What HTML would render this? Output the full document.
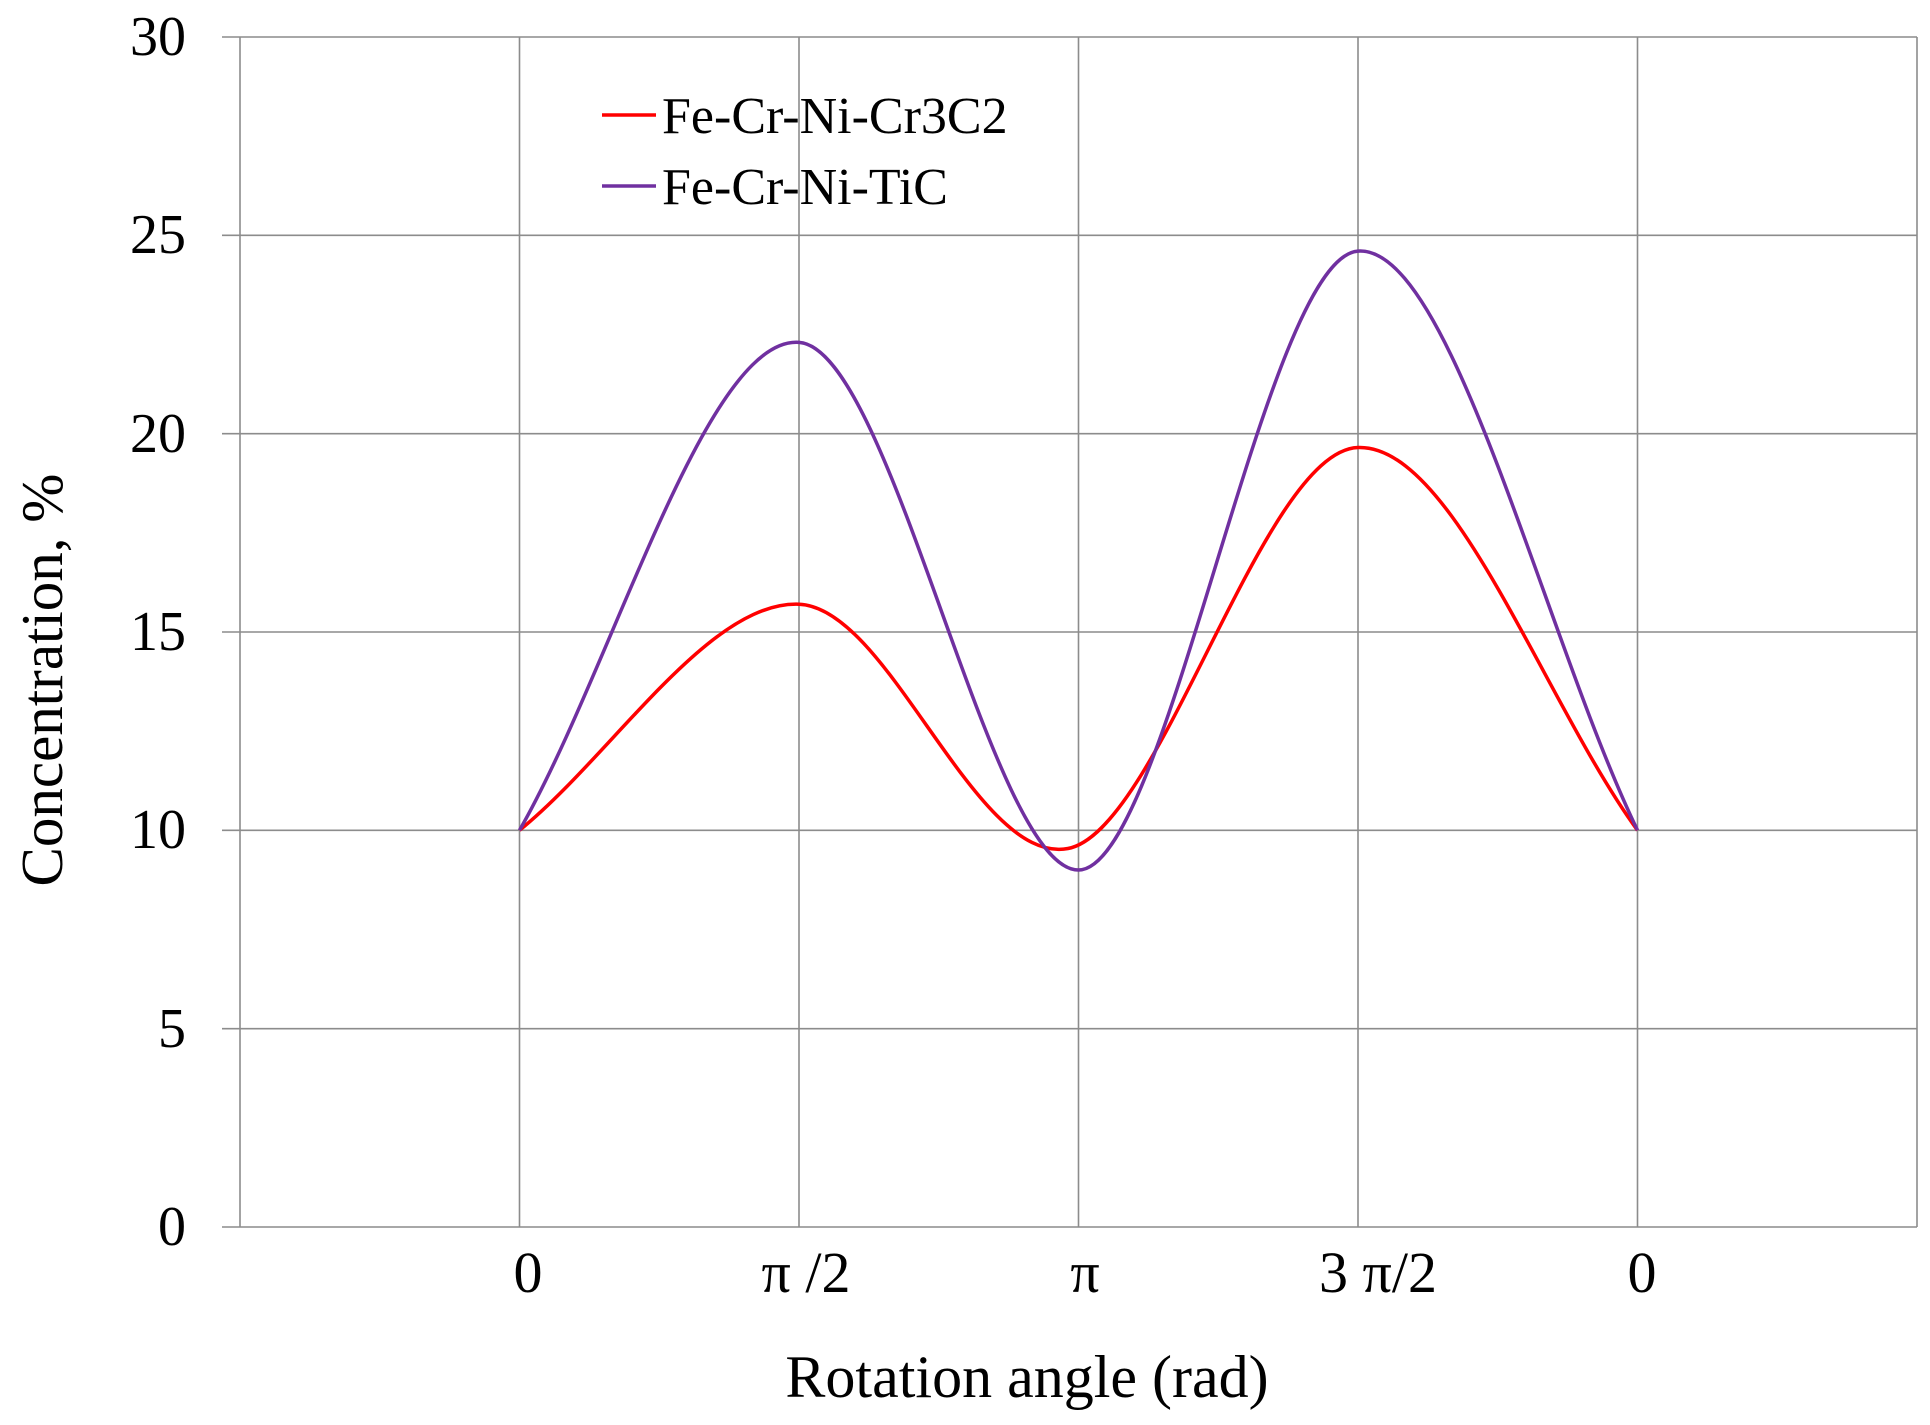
<!DOCTYPE html>
<html><head><meta charset="utf-8"><style>body{margin:0;background:#fff}</style></head><body>
<svg width="1930" height="1420" xmlns="http://www.w3.org/2000/svg" font-family="'Liberation Serif',serif">
<rect width="1930" height="1420" fill="#fff"/>
<g stroke="#8c8c8c" stroke-width="1.6">
<line x1="222" y1="37" x2="1917" y2="37"/>
<line x1="222" y1="235.3" x2="1917" y2="235.3"/>
<line x1="222" y1="433.7" x2="1917" y2="433.7"/>
<line x1="222" y1="632" x2="1917" y2="632"/>
<line x1="222" y1="830.3" x2="1917" y2="830.3"/>
<line x1="222" y1="1028.7" x2="1917" y2="1028.7"/>
<line x1="222" y1="1227" x2="1917" y2="1227"/>
<line x1="240" y1="37" x2="240" y2="1227"/>
<line x1="519.5" y1="37" x2="519.5" y2="1227"/>
<line x1="799" y1="37" x2="799" y2="1227"/>
<line x1="1078.5" y1="37" x2="1078.5" y2="1227"/>
<line x1="1358" y1="37" x2="1358" y2="1227"/>
<line x1="1637.5" y1="37" x2="1637.5" y2="1227"/>
<line x1="1917" y1="37" x2="1917" y2="1227"/>
</g>
<path fill="none" stroke="#ff0000" stroke-width="3.5" d="M519.5,830.3 C612.7,754.9 708.2,600.9 799,604.2 C889.8,607.5 975,866 1068,848.5 C1160,831 1262.5,450.8 1358,447.5 C1453.5,444.2 1544.3,702.7 1637.5,830.3"/>
<path fill="none" stroke="#7030a0" stroke-width="3.5" d="M519.5,830.3 C612.7,667.7 705.8,335.8 799,342.4 C892.2,349 990,870 1078.5,870 C1167,870 1264.8,257.7 1358,251.1 C1451.2,244.5 1544.3,637.2 1637.5,830.3"/>
<g font-size="56" fill="#000" text-anchor="end">
<text x="186" y="55">30</text>
<text x="186" y="253">25</text>
<text x="186" y="452">20</text>
<text x="186" y="650">15</text>
<text x="186" y="848">10</text>
<text x="186" y="1047">5</text>
<text x="186" y="1245">0</text>
</g>
<g font-size="58" fill="#000" text-anchor="middle">
<text x="528" y="1292">0</text>
<text x="806" y="1292">π /2</text>
<text x="1085" y="1292">π</text>
<text x="1378" y="1292">3 π/2</text>
<text x="1642" y="1292">0</text>
<text x="1027" y="1397" font-size="60">Rotation angle (rad)</text>
<text transform="translate(62,680) rotate(-90)" font-size="59">Concentration, %</text>
</g>
<line x1="602" y1="115" x2="656" y2="115" stroke="#ff0000" stroke-width="3.5"/>
<line x1="602" y1="186" x2="656" y2="186" stroke="#7030a0" stroke-width="3.5"/>
<g font-size="52" fill="#000">
<text x="662" y="133">Fe-Cr-Ni-Cr3C2</text>
<text x="662" y="204">Fe-Cr-Ni-TiC</text>
</g>
</svg>
</body></html>
